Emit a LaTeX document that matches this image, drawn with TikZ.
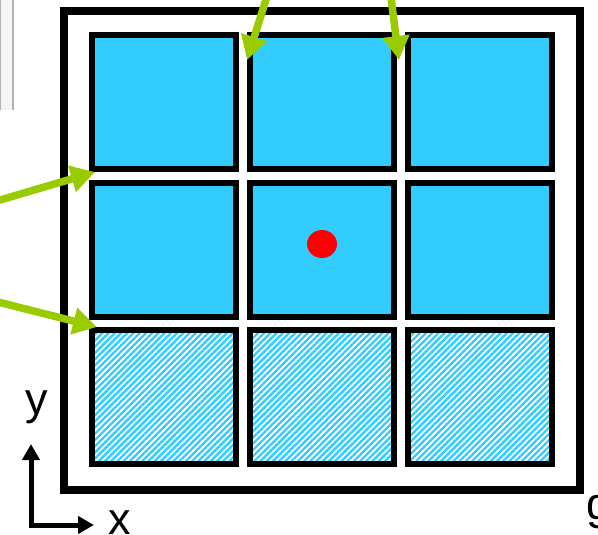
\documentclass[tikz,border=0pt]{standalone}
\usepackage{fontspec}
\setmainfont{Liberation Sans}
\usetikzlibrary{arrows.meta,patterns.meta,shapes.geometric}
\definecolor{cellblue}{HTML}{33CCFF}
\definecolor{arrgreen}{HTML}{99CC00}
\tikzset{
  cellbox/.style={draw=black, line width=6pt, fill=cellblue, rectangle,
    minimum width=144pt, minimum height=134pt, inner sep=0pt, outer sep=0pt},
  hatchbox/.style={draw=black, line width=6pt, rectangle,
    pattern={Lines[angle=45,distance=4.4pt,line width=2.4pt]}, pattern color=cellblue,
    minimum width=144pt, minimum height=134pt, inner sep=0pt, outer sep=0pt},
  framebox/.style={draw=black, line width=8pt, rectangle,
    minimum width=515.5pt, minimum height=478.5pt, inner sep=0pt, outer sep=0pt},
  greenarrow/.style={draw=arrgreen, line width=7.5pt,
    -{Triangle[length=24pt,width=26pt]}},
  axisarrow/.style={draw=black, line width=5pt, line join=miter,
    {Triangle[length=16pt,width=17pt]}-{Triangle[length=16pt,width=17pt]}},
  lbl/.style={font=\fontsize{45}{45}\selectfont, inner sep=0pt, outer sep=0pt}
}
\begin{document}
\begin{tikzpicture}[x=1pt,y=-1pt]
\useasboundingbox (0,0) rectangle (598,535);
\clip (0,0) rectangle (598,535);
% gray window fragment
\fill[gray!8] (0,0) rectangle (13,110);
\draw[gray!60, line width=2pt] (12.5,0) -- (12.5,110);
\draw[gray!60, line width=1pt] (0.5,0) -- (0.5,110);
% outer frame
\node[framebox] (frame) at (321.75,250.25) {};
% cells
\node[cellbox] (c11) at (164,102) {};
\node[cellbox] (c12) at (322,102) {};
\node[cellbox] (c13) at (480,102) {};
\node[cellbox] (c21) at (164,250) {};
\node[cellbox] (c22) at (322,250) {};
\node[cellbox] (c23) at (480,250) {};
\node[hatchbox] (c31) at (164,397) {};
\node[hatchbox] (c32) at (322,397) {};
\node[hatchbox] (c33) at (480,397) {};
% red dot
\node[ellipse, fill=red, minimum width=30pt, minimum height=28pt, inner sep=0pt] (dot) at (322,244) {};
% green arrows
\coordinate (a1s) at (-10,203);
\coordinate (a1t) at (95,172);
\coordinate (a2s) at (-10,300);
\coordinate (a2t) at (97,327);
\coordinate (a3s) at (269,-10);
\coordinate (a3t) at (247,60);
\coordinate (a4s) at (390,-10);
\coordinate (a4t) at (399,60);
\draw[greenarrow] (a1s) -- (a1t);
\draw[greenarrow] (a2s) -- (a2t);
\draw[greenarrow] (a3s) -- (a3t);
\draw[greenarrow] (a4s) -- (a4t);
% axes
\coordinate (orig) at (31,525);
\coordinate (ytip) at (31,444);
\coordinate (xtip) at (94,525);
\draw[axisarrow] (ytip) -- (orig) -- (xtip);
\node[lbl, anchor=base] (ylab) at (37,414) {y};
\node[lbl, anchor=base] (xlab) at (119.5,534) {x};
\node[lbl, anchor=base west] (glab) at (586,519) {g};
\end{tikzpicture}
\end{document}
